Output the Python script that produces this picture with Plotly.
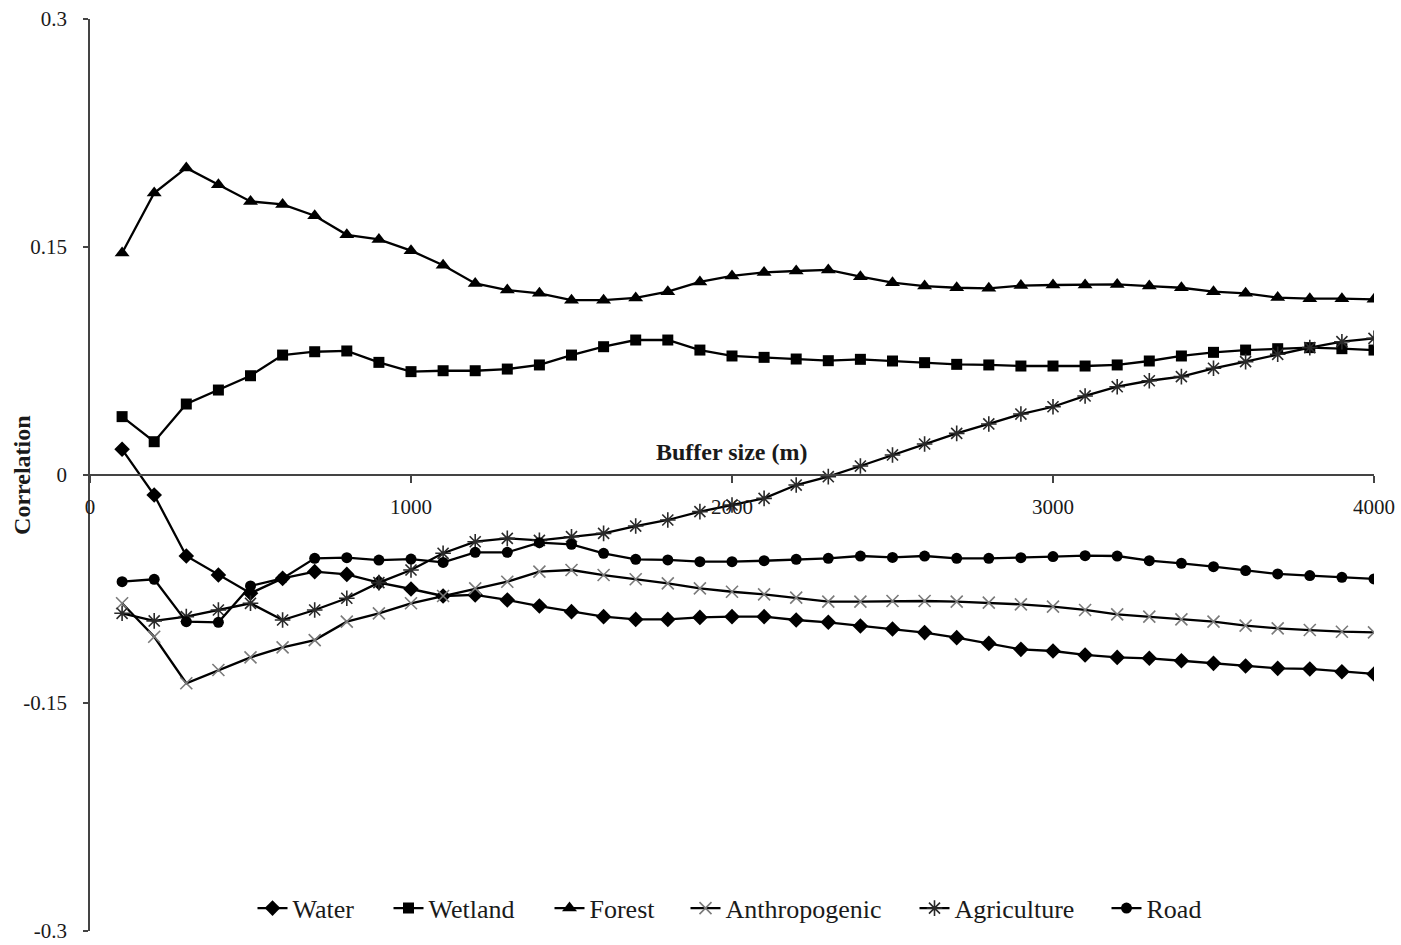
import plotly.graph_objects as go

# Buffer radius around each site (m)
buffer_m = [100, 200, 300, 400, 500, 600, 700, 800, 900, 1000,
            1100, 1200, 1300, 1400, 1500, 1600, 1700, 1800, 1900, 2000,
            2100, 2200, 2300, 2400, 2500, 2600, 2700, 2800, 2900, 3000,
            3100, 3200, 3300, 3400, 3500, 3600, 3700, 3800, 3900, 4000]

# Correlation of each land-cover class with the response, per buffer size
water = [0.0169, -0.0132, -0.0533, -0.0658, -0.0778, -0.068, -0.0636, -0.0654, -0.0708, -0.075,
         -0.0796, -0.0789, -0.0822, -0.0862, -0.0899, -0.0932, -0.095, -0.095, -0.0937, -0.0932,
         -0.0932, -0.0954, -0.0969, -0.0993, -0.1013, -0.1037, -0.107, -0.1108, -0.1147, -0.1158,
         -0.1184, -0.12, -0.1206, -0.1222, -0.1239, -0.1257, -0.1272, -0.1276, -0.1294, -0.1309]

wetland = [0.0384, 0.0219, 0.0467, 0.0559, 0.0653, 0.0789, 0.0811, 0.0816, 0.0741, 0.068,
           0.0686, 0.0686, 0.0697, 0.0724, 0.0789, 0.0844, 0.0888, 0.0888, 0.0822, 0.0783,
           0.0774, 0.0763, 0.0752, 0.0761, 0.075, 0.0739, 0.0728, 0.0724, 0.0717, 0.0717,
           0.0717, 0.0724, 0.075, 0.0783, 0.0807, 0.0822, 0.0831, 0.0838, 0.0831, 0.0822]

forest = [0.146, 0.1855, 0.202, 0.191, 0.180, 0.178, 0.1706, 0.158, 0.155, 0.1476,
          0.138, 0.126, 0.1217, 0.1195, 0.115, 0.115, 0.1165, 0.1206, 0.127, 0.131,
          0.1333, 0.1342, 0.1349, 0.1305, 0.1265, 0.1243, 0.1232, 0.1228, 0.1246, 0.125,
          0.125, 0.1254, 0.1243, 0.1232, 0.1206, 0.1195, 0.1167, 0.116, 0.116, 0.1156]

anthropogenic = [-0.0844, -0.1064, -0.137, -0.1283, -0.12, -0.1134, -0.1086, -0.0965, -0.091, -0.0844,
                 -0.0796, -0.0746, -0.0702, -0.0636, -0.0625, -0.0658, -0.0686, -0.0713, -0.0746, -0.0768,
                 -0.0785, -0.0807, -0.0833, -0.0833, -0.0829, -0.0829, -0.0833, -0.084, -0.0851, -0.0866,
                 -0.0888, -0.0917, -0.0932, -0.095, -0.0965, -0.0991, -0.1009, -0.102, -0.1031, -0.1035]

agriculture = [-0.091, -0.096, -0.0932, -0.0888, -0.0844, -0.0954, -0.0888, -0.0811, -0.0708, -0.0625,
               -0.0515, -0.0439, -0.0417, -0.043, -0.0406, -0.0384, -0.0336, -0.0296, -0.0241, -0.0197,
               -0.0154, -0.0066, -0.0011, 0.0059, 0.0132, 0.0204, 0.0274, 0.0336, 0.0401, 0.0449,
               0.052, 0.0581, 0.062, 0.0647, 0.0702, 0.0746, 0.0794, 0.0838, 0.0877, 0.0899]

road = [-0.0702, -0.0686, -0.0965, -0.0969, -0.073, -0.068, -0.0548, -0.0544, -0.056, -0.0553,
        -0.0575, -0.0509, -0.0509, -0.0445, -0.0456, -0.0515, -0.0555, -0.0559, -0.057, -0.057,
        -0.0564, -0.0555, -0.0548, -0.0533, -0.0542, -0.0533, -0.0548, -0.0548, -0.0544, -0.0537,
        -0.0531, -0.0533, -0.0564, -0.0581, -0.0603, -0.0629, -0.0651, -0.0662, -0.0673, -0.0684]

y_tick_vals = [-0.3, -0.15, 0, 0.15, 0.3]
y_tick_text = ["-0.3", "-0.15", "0", "0.15", "0.3"]
x_tick_vals = [0, 1000, 2000, 3000, 4000]

FONT = "Liberation Serif, Times New Roman, serif"

# name, values, marker symbol, marker size, marker colour, legend text width
series = [
    ("Water", water, "diamond", 12, "#000000", 91),
    ("Wetland", wetland, "square", 11, "#000000", 116),
    ("Forest", forest, "triangle-up", 13, "#000000", 91),
    ("Anthropogenic", anthropogenic, "x-thin-open", 12, "#7a7a7a", 184),
    ("Agriculture", agriculture, "asterisk-open", 13, "#2a2a2a", 147),
    ("Road", road, "circle", 11, "#000000", 60),
]

fig = go.Figure()
for name, vals, sym, size, colour, lw in series:
    is_open = sym.endswith("open")
    fig.add_trace(go.Scatter(
        x=buffer_m, y=vals, name=name, mode="lines+markers",
        line=dict(color="#000000", width=2.3),
        marker=dict(symbol=sym, size=size, color=colour,
                    line=dict(color=colour, width=1.6 if is_open else 0)),
        legendwidth=lw,
    ))

axis_color = "#444444"

fig.update_layout(
    width=1401, height=945,
    margin=dict(l=90, r=27, t=19, b=14, autoexpand=False),
    paper_bgcolor="white", plot_bgcolor="white",
    font=dict(family=FONT, size=21, color="#1a1a1a"),
    showlegend=True,
    legend=dict(
        orientation="h", x=0.5, xanchor="center", y=0.025, yanchor="middle",
        font=dict(family=FONT, size=26, color="#1a1a1a"),
        itemwidth=30, bgcolor="rgba(0,0,0,0)",
    ),
    xaxis=dict(
        range=[0, 4000], tickvals=x_tick_vals,
        anchor="free", position=0.5, automargin=False,
        showline=True, linecolor=axis_color, linewidth=1.5,
        ticks="outside", ticklen=7, tickcolor=axis_color, tickwidth=1.5,
        showgrid=False, zeroline=False,
        tickfont=dict(family=FONT, size=21, color="#1a1a1a"),
        ticklabelstandoff=6,
    ),
    yaxis=dict(
        range=[-0.3, 0.3], tickvals=y_tick_vals, ticktext=y_tick_text,
        automargin=False,
        showline=True, linecolor=axis_color, linewidth=1.5,
        ticks="outside", ticklen=5, tickcolor=axis_color, tickwidth=1.5,
        showgrid=False, zeroline=False,
        tickfont=dict(family=FONT, size=21, color="#1a1a1a"),
        ticklabelstandoff=12,
    ),
    annotations=[
        dict(text="<b>Buffer size (m)</b>", xref="paper", yref="y",
             x=0.5, y=0.0151, xanchor="center", yanchor="middle",
             showarrow=False, font=dict(family=FONT, size=24, color="#1a1a1a")),
        dict(text="<b>Correlation</b>", xref="paper", yref="paper",
             x=-0.053, y=0.5, xanchor="center", yanchor="middle", textangle=-90,
             showarrow=False, font=dict(family=FONT, size=24, color="#1a1a1a")),
    ],
)

fig.write_html("out.html")
